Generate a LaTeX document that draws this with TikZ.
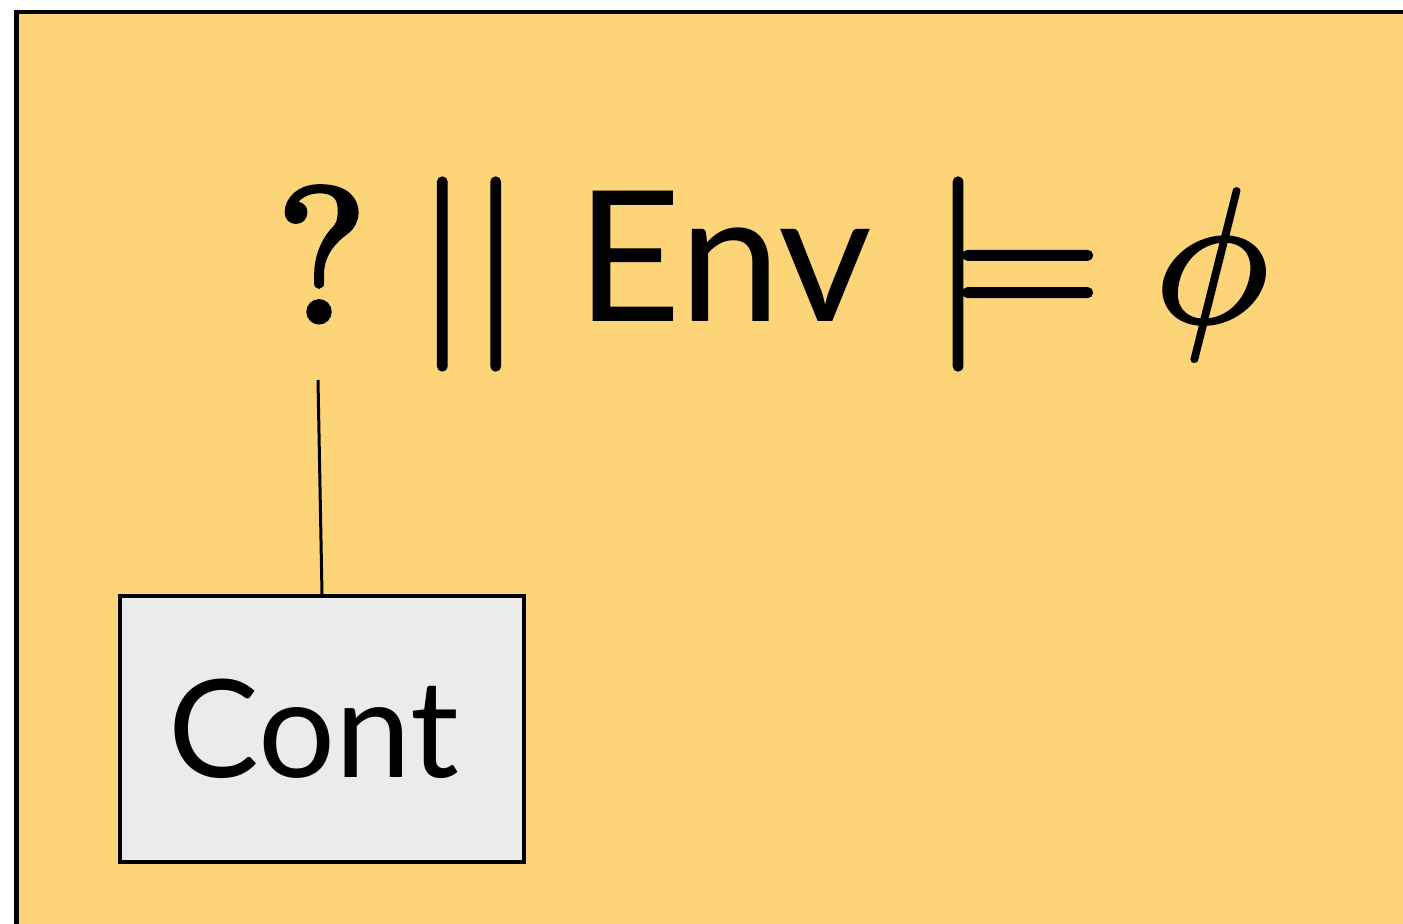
\documentclass[tikz,border=0pt]{standalone}
\usepackage{fontspec}
\newfontfamily\gill{Lato}
\newfontfamily\lmheavy[RawFeature={embolden=2.6}]{Latin Modern Math}
\newfontfamily\lmmath[RawFeature={embolden=1.6}]{Latin Modern Math}
\definecolor{envbg}{HTML}{FED478}
\definecolor{contbg}{HTML}{EBEBEB}
\tikzset{
  formula/.style={inner sep=0pt, anchor=base west, font=\lmmath\fontsize{96}{110}\selectfont},
  contbox/.style={draw=black, line width=2pt, fill=contbg, minimum width=202pt, minimum height=133pt, inner sep=0pt},
  contlabel/.style={inner sep=0pt, anchor=base, font=\gill\fontsize{68}{80}\selectfont},
  wire/.style={line width=1.5pt}
}
\begin{document}
\begin{tikzpicture}[x=0.5pt,y=-0.5pt]
\useasboundingbox (0,0) rectangle (1403,924);
\clip (0,0) rectangle (1403,924);
\draw[line width=2.25pt, fill=envbg] (16.5,12) rectangle (1460,1000);
\node[formula, font=\lmheavy\fontsize{96}{110}\selectfont] (q) at (276,322) {?};
\node[formula, anchor=base] (bars) at (469,322) {||};
\node[formula, font=\gill\fontsize{91}{100}\selectfont] (env) at (576,322) {Env};
\node[formula] (models) at (931,322) {|\kern-0.1667em=};
\node[formula] (phi) at (1154,322) {𝜙};
\coordinate (qbot) at (318,380);
\node[contbox] (cont) at (322,729) {};
\node[contlabel] (contlabel) at (314,777) {Cont};
\draw[wire] (qbot) -- (cont.north);
\end{tikzpicture}
\end{document}
